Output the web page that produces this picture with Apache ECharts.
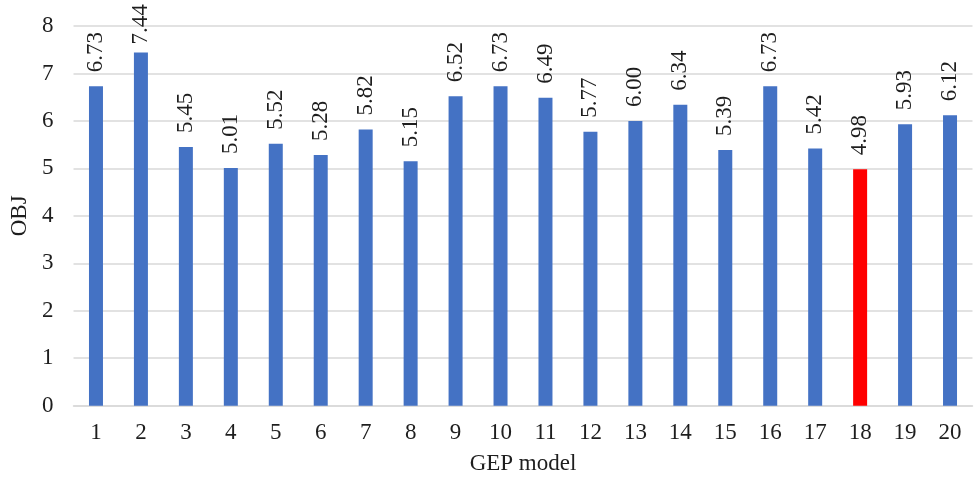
<!DOCTYPE html>
<html>
<head>
<meta charset="utf-8">
<script src="https://cdn.jsdelivr.net/npm/echarts@6/dist/echarts.min.js"></script>
<style>
  html, body { margin: 0; padding: 0; background: #fff; }
  #chart { width: 975px; height: 481px; }
</style>
</head>
<body>
<div id="chart"></div>
<script>
// GEP model runs and their objective values
const models = ['1','2','3','4','5','6','7','8','9','10','11','12','13','14','15','16','17','18','19','20'];
const objValues = [6.73, 7.44, 5.45, 5.01, 5.52, 5.28, 5.82, 5.15, 6.52, 6.73, 6.49, 5.77, 6.00, 6.34, 5.39, 6.73, 5.42, 4.98, 5.93, 6.12];
const bestModel = '18';

const FONT = '"Liberation Serif", "DejaVu Serif", serif';
const BLUE = '#4472C4';
const RED = '#FF0000';
const TEXT = '#1e1e1e';

const chart = echarts.init(document.getElementById('chart'));
chart.setOption({
  animation: false,
  grid: { left: 73.5, right: 2.5, top: 26, bottom: 75.3 },
  xAxis: {
    type: 'category',
    data: models,
    name: 'GEP model',
    nameLocation: 'middle',
    nameGap: 47,
    nameTextStyle: { fontFamily: FONT, fontSize: 23, color: TEXT },
    axisLine: { show: true, lineStyle: { color: '#d9d9d9', width: 1.5 } },
    axisTick: { show: false },
    axisLabel: { fontFamily: FONT, fontSize: 23, color: TEXT, margin: 16 }
  },
  yAxis: {
    type: 'value',
    min: 0,
    max: 8,
    interval: 1,
    name: 'OBJ',
    nameLocation: 'middle',
    nameGap: 40,
    nameRotate: 90,
    nameTextStyle: { fontFamily: FONT, fontSize: 23, color: TEXT },
    axisLine: { show: false },
    axisTick: { show: false },
    splitLine: { lineStyle: { color: '#d9d9d9', width: 1.5 } },
    axisLabel: { fontFamily: FONT, fontSize: 23, color: TEXT, margin: 20 }
  },
  series: [{
    type: 'bar',
    barWidth: 14,
    data: objValues.map((v, i) => ({
      value: v,
      itemStyle: { color: models[i] === bestModel ? RED : BLUE },
      // the tallest bar's label sits a little closer so it stays on the canvas
      label: { distance: v > 7.2 ? 8 : 14 }
    })),
    label: {
      show: true,
      position: 'top',
      rotate: 90,
      align: 'left',
      verticalAlign: 'middle',
      distance: 14,
      fontFamily: FONT,
      fontSize: 23,
      color: TEXT,
      formatter: p => p.value.toFixed(2)
    }
  }]
});
</script>
</body>
</html>
